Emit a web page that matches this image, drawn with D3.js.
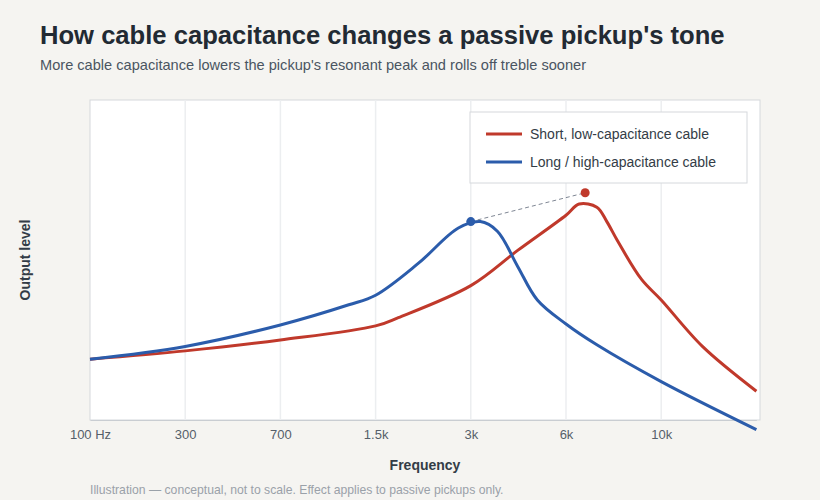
<!DOCTYPE html>
<html><head><meta charset="utf-8">
<script src="https://cdn.jsdelivr.net/npm/d3@7"></script>
<style>body{margin:0;background:#f5f4f1;font-family:"Liberation Sans",Arial,sans-serif}</style>
</head><body><svg id="c" width="820" height="500"></svg>
<script>
const tickFreqs=[100,300,700,1500,3000,6000,10000,20000];
const tickLabels=["100 Hz","300","700","1.5k","3k","6k","10k",""];
const redFreq=[100,300,700,1500,1770,3000,4220,6000,6440,7080,7470,7910,8990,10000,13500,20000];
const redLevel=[0.19,0.216,0.25,0.294,0.32,0.42,0.53,0.64,0.675,0.665,0.62,0.56,0.44,0.375,0.23,0.09];
const blueFreq=[100,300,700,1210,1500,2050,2740,3215,3640,4220,4870,6000,7080,10000,20000];
const blueLevel=[0.19,0.23,0.297,0.36,0.39,0.49,0.60,0.62,0.59,0.48,0.375,0.30,0.235,0.12,-0.03];
const peaks=[{f:3000,v:0.62,c:"#2b5cab"},{f:6650,v:0.71,c:"#c0392b"}];
const seriesNames=["Short, low-capacitance cable","Long / high-capacitance cable"];

const svg=d3.select("#c");
const L=90,R=760,T=100,B=420;
const x=d3.scaleLog().domain(tickFreqs).range(tickFreqs.map((d,i)=>L+i*95.2));
const y=d3.scaleLinear().domain([0,1]).range([B,T]);
svg.append("text").attr("x",40).attr("y",44).attr("font-size",25.6).attr("font-weight","bold").attr("fill","#222a33").text("How cable capacitance changes a passive pickup's tone");
svg.append("text").attr("x",40).attr("y",70).attr("font-size",14.6).attr("fill","#4a5561").text("More cable capacitance lowers the pickup's resonant peak and rolls off treble sooner");
svg.append("rect").attr("x",L).attr("y",T).attr("width",R-L).attr("height",B-T).attr("fill","#fff").attr("stroke","#d5d8dc");
svg.append("g").selectAll("line").data(tickFreqs.slice(1,7)).join("line")
 .attr("x1",d=>x(d)).attr("x2",d=>x(d)).attr("y1",T).attr("y2",B).attr("stroke","#eceef0").attr("stroke-width",1.5);
const ax=svg.append("g").attr("transform",`translate(0,${B})`).call(d3.axisBottom(x).tickValues(tickFreqs.slice(0,7)).tickFormat((d,i)=>tickLabels[i]).tickSize(0).tickPadding(10));
ax.select(".domain").attr("stroke","#c9cdd2");
ax.selectAll("text").attr("font-size",13).attr("fill","#555f6a").attr("font-family","Liberation Sans, Arial");
svg.append("text").attr("x",425).attr("y",470).attr("text-anchor","middle").attr("font-size",14).attr("font-weight","bold").attr("fill","#333c46").text("Frequency");
svg.append("text").attr("transform","translate(30,260) rotate(-90)").attr("text-anchor","middle").attr("font-size",14).attr("font-weight","bold").attr("fill","#333c46").text("Output level");
const line=d3.line().x(d=>x(d[0])).y(d=>y(d[1])).curve(d3.curveCatmullRom.alpha(0.5));
svg.append("path").attr("d",line(redFreq.map((f,i)=>[f,redLevel[i]]))).attr("fill","none").attr("stroke","#c0392b").attr("stroke-width",3);
svg.append("path").attr("d",line(blueFreq.map((f,i)=>[f,blueLevel[i]]))).attr("fill","none").attr("stroke","#2b5cab").attr("stroke-width",3);
svg.append("line").attr("x1",x(peaks[0].f)).attr("y1",y(peaks[0].v)).attr("x2",x(peaks[1].f)).attr("y2",y(peaks[1].v)).attr("stroke","#7f8794").attr("stroke-dasharray","4,3");
svg.selectAll("circle.p").data(peaks).join("circle").attr("cx",d=>x(d.f)).attr("cy",d=>y(d.v)).attr("r",4.5).attr("fill",d=>d.c);
const lg=svg.append("g");
lg.append("rect").attr("x",470).attr("y",112).attr("width",277).attr("height",71).attr("fill","#fff").attr("stroke","#d5d8dc");
seriesNames.forEach((n,i)=>{
 lg.append("line").attr("x1",486).attr("x2",522).attr("y1",134+i*28).attr("y2",134+i*28).attr("stroke",i?"#2b5cab":"#c0392b").attr("stroke-width",3);
 lg.append("text").attr("x",530).attr("y",139+i*28).attr("font-size",14).attr("fill","#333c46").text(n);
});
svg.append("text").attr("x",90).attr("y",494).attr("font-size",12.2).attr("fill","#9aa1a9").text("Illustration — conceptual, not to scale. Effect applies to passive pickups only.");
</script></body></html>
